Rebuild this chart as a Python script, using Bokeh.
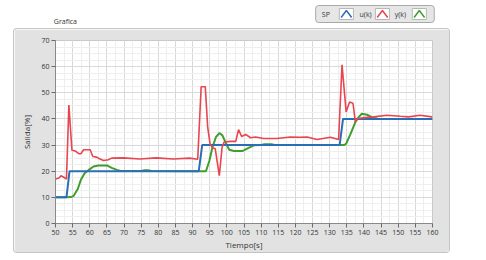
from bokeh.plotting import figure
from bokeh.layouts import column
from bokeh.models import SingleIntervalTicker, Range1d
from bokeh.core.properties import value
from bokeh.embed import file_html
from bokeh.resources import INLINE

# ---- data ----
t_sp = [50, 53.2, 54.1, 91.8, 92.8, 132.9, 133.9, 160]
sp = [10, 10, 20, 20, 30, 30, 40, 40]

t_u = [50, 51, 51.6, 52.4, 53.2, 53.9, 54.8, 55.8, 56.8, 57.4,
       58.2, 60.1, 60.9, 62, 63, 64, 65.4, 66.4, 69.8, 74.6,
       79.4, 84.3, 89.1, 91.5, 92.5, 93.7, 94.4, 95.1, 95.8, 96.6,
       97.8, 98.6, 99.2, 101.2, 102.6, 103.4, 104.3, 105.5, 106.9, 108.4,
       110.7, 114.6, 118.5, 121.4, 123.4, 126.3, 130.2, 132.6, 133.6, 134.8,
       135.8, 136.8, 137.5, 138, 140, 142.8, 146.7, 150.6, 153, 156.4,
       159.8, 160]
u = [17, 17.4, 18.3, 17.7, 17, 45.3, 28, 27.7, 26.7, 26.7,
     28.2, 28.2, 25.6, 25.4, 24.7, 24.1, 24.4, 25, 25.1, 24.7,
     25.1, 24.7, 25, 24.6, 52.3, 52.3, 36.9, 30.5, 29, 28.6,
     18.3, 29.2, 31.2, 31.4, 31.4, 35.9, 33.3, 34.1, 32.8, 33.1,
     32.5, 32.5, 33.1, 33, 33.1, 32.1, 33, 32.1, 60.7, 42.7,
     46.5, 46, 38.8, 40.1, 40.5, 40.8, 41.4, 41, 40.8, 41.4,
     40.8, 40.8]

t_y = [50, 53.2, 54.5, 55.3, 56.5, 57.4, 58.5, 59.7, 61.1, 62.5,
       65, 66.4, 67.9, 69, 75, 76, 77, 78, 92.8, 93.9,
       94.9, 95.8, 96.8, 97.8, 98.7, 99.7, 100.7, 102.1, 104.5, 106.5,
       107.9, 110, 111, 113, 114, 134.2, 134.8, 136, 137.5, 138.5,
       139.4, 140.9, 142.6, 144, 160]
y = [10, 10, 10.1, 10.6, 13.2, 16.7, 19.2, 20.5, 21.8, 22.2,
     22.2, 21.3, 20.5, 20.1, 20.1, 20.4, 20.4, 20.1, 20, 20,
     24, 29.2, 33, 34.6, 33.7, 30.8, 28.2, 27.7, 27.7, 29,
     29.9, 30, 30.3, 30.3, 30, 30, 30.5, 34, 38.8, 40.8,
     42, 41.6, 40.5, 40.1, 40]

legend_names = ["SP", "u(k)", "y(k)"]
title_text = "Grafica"
x_label = "Tiempo[s]"
y_label = "Salida[%]"

BLUE = "#2a6fb5"
RED = "#e8454f"
GREEN = "#3f9e2e"
FONT = "Open Sans"

# ---- header (title + legend) ----
h = figure(width=478, height=29, x_range=Range1d(0, 478), y_range=Range1d(29, 0),
           output_backend="svg", toolbar_location=None,
           x_axis_type=None, y_axis_type=None,
           min_border=0, outline_line_color=None)
h.grid.visible = False
h.text(x=[14], y=[20.5], text=[title_text], text_font=value(FONT), text_font_size="7px",
       text_color="#333333", text_baseline="middle", text_align="left")
# legend box
h.quad(left=[312], right=[447], top=[5], bottom=[22], fill_color="#e6e6e6",
       line_color="#a8a8a8", line_width=1, border_radius=3)
lab_x = [319, 362, 402]
icon_l = [339, 380, 422]
cols = [BLUE, RED, GREEN]
h.text(x=lab_x, y=[13.5] * 3, text=legend_names, text_font=value(FONT), text_font_size="7px",
       text_color="#333333", text_baseline="middle", text_align="left")
h.quad(left=icon_l, right=[l + 16 for l in icon_l], top=[8] * 3, bottom=[19] * 3,
       fill_color="white", line_color="#b8b8b8", line_width=1)
h.multi_line(xs=[[l + 2, l + 8, l + 14] for l in icon_l], ys=[[17, 10, 17]] * 3,
             line_color=cols, line_width=1.5)

# ---- main chart ----
p = figure(width=435, height=223, x_range=Range1d(50, 160), y_range=Range1d(0, 70),
           output_backend="svg", toolbar_location=None,
           min_border_left=41, min_border_right=17, min_border_top=11, min_border_bottom=29,
           background_fill_color="white", border_fill_color="#e2e2e2",
           outline_line_color="#c8c8c8")
p.margin = (0, 0, 0, 14)
p.styles = {"box-shadow": "0 0 0 1px #c4c4c4", "border-radius": "3px"}

p.xaxis.ticker = SingleIntervalTicker(interval=5, num_minor_ticks=2)
p.yaxis.ticker = SingleIntervalTicker(interval=10, num_minor_ticks=4)
for ax in (p.xaxis, p.yaxis):
    ax.axis_line_color = "#8a8a8a"
    ax.major_tick_line_color = "#6a6a6a"
    ax.major_tick_out = 4
    ax.major_tick_in = 0
    ax.minor_tick_line_color = None
    ax.major_label_text_font = FONT
    ax.major_label_text_font_size = "7px"
    ax.major_label_text_color = "#333333"
    ax.axis_label_text_font = FONT
    ax.axis_label_text_font_size = "8px"
    ax.axis_label_text_font_style = "normal"
    ax.axis_label_text_color = "#333333"
p.xaxis.axis_label = x_label
p.yaxis.axis_label = y_label
p.xaxis.major_label_standoff = 2
p.xaxis.axis_label_standoff = 1
p.yaxis.major_label_standoff = 2
p.yaxis.axis_label_standoff = 6

p.grid.grid_line_color = "#d9d9d9"
p.grid.minor_grid_line_color = "#efefef"

p.line(t_y, y, line_color=GREEN, line_width=2)
p.line(t_sp, sp, line_color=BLUE, line_width=2)
p.line(t_u, u, line_color=RED, line_width=1.6)

layout = column(h, p, spacing=0)
open("out.html", "w").write(file_html(layout, INLINE))
